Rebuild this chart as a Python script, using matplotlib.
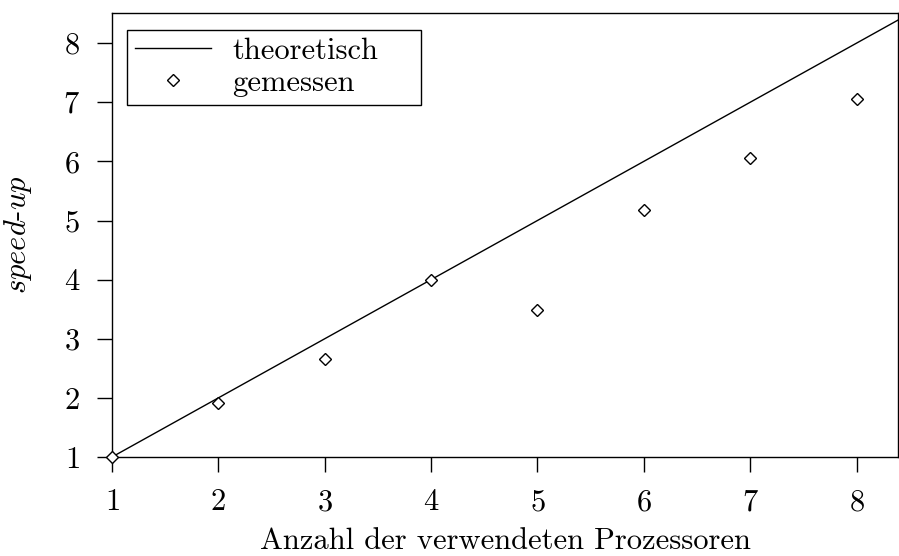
import matplotlib
matplotlib.use('Agg')
import matplotlib.pyplot as plt
import numpy as np

plt.rcParams['font.family'] = 'cmr10'
plt.rcParams['mathtext.fontset'] = 'cm'
plt.rcParams['axes.formatter.use_mathtext'] = True
plt.rcParams['font.size'] = 22

## data
# -------------------------------------------------------------
prozessoren = [1, 2, 3, 4, 5, 6, 7, 8]
gemessen = [1.0, 1.92, 2.65, 4.0, 3.48, 5.17, 6.05, 7.05]
theo_x = [1, 9]
theo_y = [1, 9]
# -------------------------------------------------------------

fig = plt.figure(figsize=(8.99, 5.56), dpi=100)
ax = fig.add_axes([112/899, 1-457/556, 786/899, 444/556])

ax.plot(theo_x, theo_y, '-', color='black', linewidth=1.0, label='theoretisch')
ax.plot(prozessoren, gemessen, 'D', markerfacecolor='white', markeredgecolor='black',
        markeredgewidth=1.0, markersize=6.5, linestyle='none', label='gemessen', clip_on=False, zorder=3)

ax.set_xlim(1, 8.39)
ax.set_ylim(1, 8.51)
ax.set_xticks(prozessoren)
ax.set_yticks(range(1, 9))
ax.tick_params(which='both', direction='out', length=11, width=1.0, pad=12)
for s in ax.spines.values():
    s.set_linewidth(1.0)

ax.set_xlabel('Anzahl der verwendeten Prozessoren', labelpad=8)
ax.set_ylabel(r'$\mathit{speed}$-$\mathit{up}$', labelpad=21)

# legend box spans a fixed area in the upper left corner
leg = ax.legend(loc='upper left', bbox_to_anchor=(15/786, 0, 294/786, 427/444), mode='expand',
                fancybox=False, edgecolor='black', framealpha=1,
                handlelength=2.5, handletextpad=0.7, labelspacing=0.15,
                borderaxespad=0, borderpad=0.25)
leg.get_frame().set_linewidth(1.0)

plt.savefig('out.png', dpi=100)
